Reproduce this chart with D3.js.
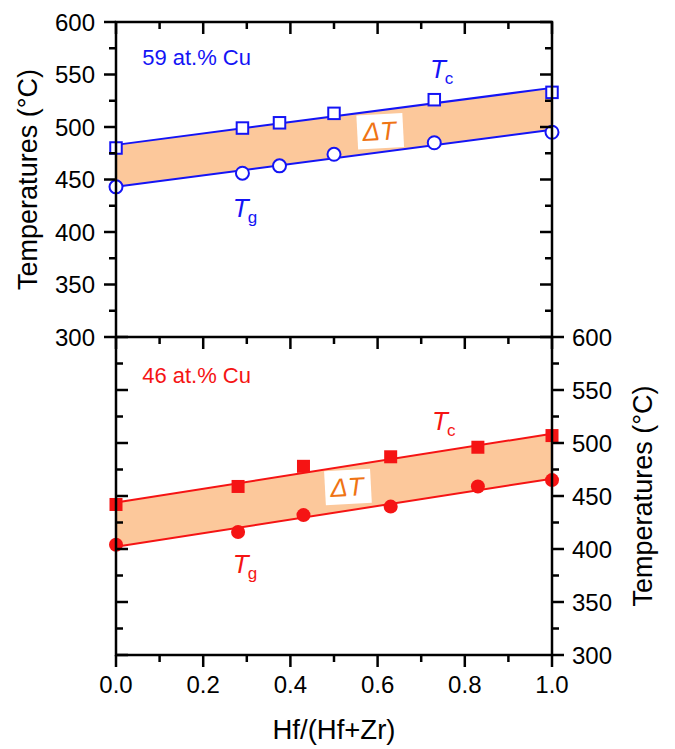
<!DOCTYPE html>
<html>
<head>
<meta charset="utf-8">
<script src="https://cdn.jsdelivr.net/npm/d3@7"></script>
<style>
  html, body { margin: 0; padding: 0; background: #fff; }
  svg { display: block; font-family: "Liberation Sans", Arial, sans-serif; }
</style>
</head>
<body>
<svg id="chart" width="675" height="749"></svg>
<script>
// Hf/(Hf+Zr) ratio and transition temperatures for the two Cu contents
const cu59X  = [0, 0.29, 0.375, 0.5, 0.73, 1.0];
const cu59Tc = [480, 499, 504, 513, 526, 533];
const cu59Tg = [443, 456, 463, 474, 485, 495];

const cu46X  = [0, 0.28, 0.43, 0.63, 0.83, 1.0];
const cu46Tc = [442, 459, 478, 487, 496, 507];
const cu46Tg = [404, 416, 432, 440, 459, 465];

const xTicks = [0, 0.2, 0.4, 0.6, 0.8, 1.0];
const xMinorTicks = [0.1, 0.3, 0.5, 0.7, 0.9];
const yTicks = [300, 350, 400, 450, 500, 550, 600];
const yMinorTicks = [325, 375, 425, 475, 525, 575];

const BLUE = "#1414f5";
const RED = "#f51414";
const BAND = "#fcc89b";
const ORANGE = "#ef7414";
const FONT = "'Liberation Sans', Arial, sans-serif";

const svg = d3.select("#chart");

const x = d3.scaleLinear().domain([0, 1]).range([116, 552]);
const yTop = d3.scaleLinear().domain([300, 600]).range([337, 22]);
const yBot = d3.scaleLinear().domain([300, 600]).range([655, 337]);

// least-squares straight line through a series
function fit(xs, ys) {
  const mx = d3.mean(xs), my = d3.mean(ys);
  let sxy = 0, sxx = 0;
  xs.forEach((v, i) => { sxy += (v - mx) * (ys[i] - my); sxx += (v - mx) * (v - mx); });
  const b = sxy / sxx, a = my - b * mx;
  return t => a + b * t;
}

function panel(cfg) {
  const g = svg.append("g");
  const y = cfg.y;
  const fTc = fit(cfg.xs, cfg.tc), fTg = fit(cfg.xs, cfg.tg);

  // ΔT band between the two fitted lines
  const area = d3.area()
    .x(d => x(d))
    .y0(d => y(fTg(d)))
    .y1(d => y(fTc(d)));
  g.append("path").datum([0, 1]).attr("d", area).attr("fill", BAND);

  [fTc, fTg].forEach(f => {
    const ln = d3.line().x(d => x(d)).y(d => y(f(d)));
    g.append("path").datum([0, 1]).attr("d", ln)
      .attr("fill", "none").attr("stroke", cfg.color).attr("stroke-width", 2);
  });

  // markers: squares for Tc, circles for Tg
  const sq = cfg.filled ? 13 : 11.5;
  g.selectAll("rect.tc").data(cfg.xs).join("rect")
    .attr("x", (d) => x(d) - sq / 2)
    .attr("y", (d, i) => y(cfg.tc[i]) - sq / 2)
    .attr("width", sq).attr("height", sq)
    .attr("fill", cfg.filled ? cfg.color : "#fff")
    .attr("stroke", cfg.filled ? "none" : cfg.color)
    .attr("stroke-width", 2);
  g.selectAll("circle.tg").data(cfg.xs).join("circle")
    .attr("cx", d => x(d))
    .attr("cy", (d, i) => y(cfg.tg[i]))
    .attr("r", cfg.filled ? 7 : 6.5)
    .attr("fill", cfg.filled ? cfg.color : "#fff")
    .attr("stroke", cfg.filled ? "none" : cfg.color)
    .attr("stroke-width", 2);

  // ΔT label in a white box
  const dt = g.append("g")
    .attr("transform", `translate(${x(cfg.dtPos[0])},${y(cfg.dtPos[1])}) rotate(-3)`);
  dt.append("rect").attr("x", -23).attr("y", -17).attr("width", 46).attr("height", 34).attr("fill", "#fff");
  dt.append("text").attr("x", -1).attr("y", 9).attr("text-anchor", "middle")
    .attr("font-size", 26).attr("font-style", "italic").attr("fill", ORANGE)
    .attr("font-family", FONT).text("ΔT");

  // Tc / Tg labels with subscripts
  function sub(pos, main, s) {
    const t = g.append("text").attr("x", x(pos[0])).attr("y", y(pos[1]))
      .attr("fill", cfg.color).attr("font-family", FONT);
    t.append("tspan").attr("font-size", 26).attr("font-style", "italic").text(main);
    t.append("tspan").attr("font-size", 17).attr("dy", 6).attr("dx", -1).text(s);
  }
  sub(cfg.tcPos, "T", "c");
  sub(cfg.tgPos, "T", "g");

  g.append("text").attr("x", x(cfg.labelPos[0])).attr("y", y(cfg.labelPos[1]))
    .attr("fill", cfg.color).attr("font-size", 22).attr("font-family", FONT)
    .text(cfg.label);
  return g;
}

panel({
  y: yTop, xs: cu59X, tc: cu59Tc, tg: cu59Tg, color: BLUE, filled: false,
  dtPos: [0.606, 496], tcPos: [0.72, 547], tgPos: [0.268, 414],
  labelPos: [0.06, 559], label: "59 at.% Cu"
});
panel({
  y: yBot, xs: cu46X, tc: cu46Tc, tg: cu46Tg, color: RED, filled: true,
  dtPos: [0.532, 458.5], tcPos: [0.725, 512], tgPos: [0.268, 377],
  labelPos: [0.06, 557], label: "46 at.% Cu"
});

// axes drawn over the data
const AX = 2.5;
function yAxis(scale, xpos, orient, inward, labels) {
  const g = svg.append("g").attr("transform", `translate(${xpos},0)`);
  const dir = (orient === "left") === inward ? 1 : -1; // +1 = tick toward right
  g.selectAll("line.maj").data(yTicks).join("line")
    .attr("x1", 0).attr("x2", dir * 12).attr("y1", d => scale(d)).attr("y2", d => scale(d))
    .attr("stroke", "#000").attr("stroke-width", AX);
  g.selectAll("line.min").data(yMinorTicks).join("line")
    .attr("x1", 0).attr("x2", dir * 7).attr("y1", d => scale(d)).attr("y2", d => scale(d))
    .attr("stroke", "#000").attr("stroke-width", AX);
  if (labels) {
    g.selectAll("text").data(yTicks).join("text")
      .attr("x", orient === "left" ? -21 : 20)
      .attr("y", d => scale(d) + 8.5)
      .attr("text-anchor", orient === "left" ? "end" : "start")
      .attr("font-size", 24).attr("font-family", FONT).attr("fill", "#000")
      .text(d => d);
  }
}
function xAxis(ypos, labels) {
  // ticks point downward on every horizontal frame line
  const g = svg.append("g").attr("transform", `translate(0,${ypos})`);
  g.selectAll("line.maj").data(xTicks).join("line")
    .attr("x1", d => x(d)).attr("x2", d => x(d)).attr("y1", 0).attr("y2", 12)
    .attr("stroke", "#000").attr("stroke-width", AX);
  g.selectAll("line.min").data(xMinorTicks).join("line")
    .attr("x1", d => x(d)).attr("x2", d => x(d)).attr("y1", 0).attr("y2", 7)
    .attr("stroke", "#000").attr("stroke-width", AX);
  if (labels) {
    g.selectAll("text").data(xTicks).join("text")
      .attr("x", d => x(d)).attr("y", 38)
      .attr("text-anchor", "middle")
      .attr("font-size", 24).attr("font-family", FONT).attr("fill", "#000")
      .text(d => d.toFixed(1));
  }
}

// ticks
yAxis(yTop, x(0), "left", false, true);
yAxis(yTop, x(1), "right", true, false);
yAxis(yBot, x(0), "left", true, false);
yAxis(yBot, x(1), "right", false, true);
xAxis(yTop(600), false);
xAxis(yTop(300), false);
xAxis(yBot(300), true);

// frame lines
const frame = svg.append("g").attr("stroke", "#000").attr("stroke-width", AX).attr("fill", "none");
frame.append("rect").attr("x", x(0)).attr("y", yTop(600))
  .attr("width", x(1) - x(0)).attr("height", yBot(300) - yTop(600));
frame.append("line").attr("x1", x(0)).attr("x2", x(1)).attr("y1", yTop(300)).attr("y2", yTop(300));

// axis titles
svg.append("text")
  .attr("transform", `translate(37,${(yTop(600) + yTop(300)) / 2}) rotate(-90)`)
  .attr("text-anchor", "middle").attr("font-size", 27).attr("font-family", FONT)
  .text("Temperatures (°C)");
svg.append("text")
  .attr("transform", `translate(652,${(yBot(600) + yBot(300)) / 2}) rotate(-90)`)
  .attr("text-anchor", "middle").attr("font-size", 27).attr("font-family", FONT)
  .text("Temperatures (°C)");
svg.append("text")
  .attr("x", (x(0) + x(1)) / 2).attr("y", 739)
  .attr("text-anchor", "middle").attr("font-size", 27.5).attr("font-family", FONT)
  .text("Hf/(Hf+Zr)");
</script>
</body>
</html>
